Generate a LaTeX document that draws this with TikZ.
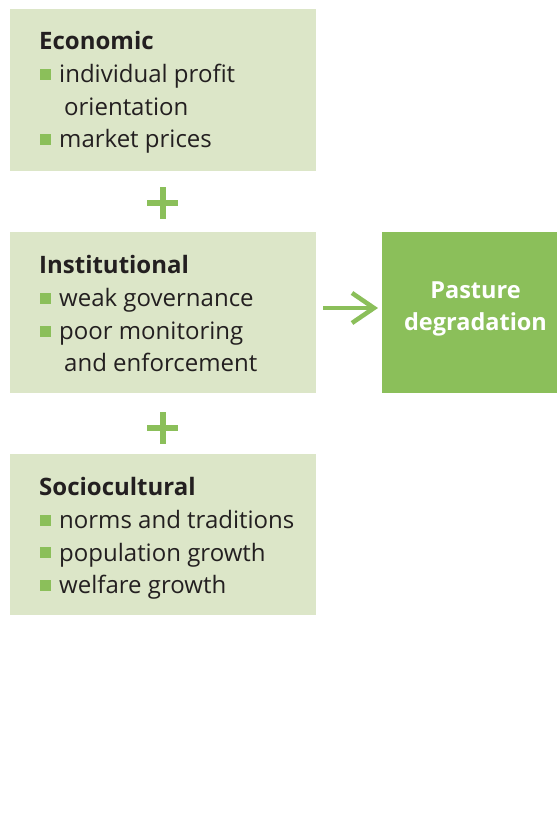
\documentclass[tikz,border=0pt]{standalone}
\usepackage{fontspec}
\setmainfont{Open Sans}
\definecolor{lightgreen}{HTML}{DCE6C8}
\definecolor{darkgreen}{HTML}{8BBF5A}
\definecolor{ink}{HTML}{231F20}
\begin{document}
\begin{tikzpicture}[x=1pt,y=-1pt,
  factorbox/.style={fill=lightgreen, draw=none},
  title/.style={anchor=base west, inner sep=0pt, font=\fontsize{24}{28}\selectfont\bfseries, text=ink},
  item/.style={anchor=base west, inner sep=0pt, font=\fontsize{24}{28}\selectfont, text=ink},
  bulletsq/.style={fill=darkgreen, draw=none},
  plusbar/.style={draw=darkgreen, line width=6pt},
  arrowline/.style={draw=darkgreen, line width=4.5pt}
]
\useasboundingbox (0,0) rectangle (557,816);
% boxes
\fill[factorbox] (10,9) rectangle (316,171);
\fill[factorbox] (10,232) rectangle (316,393);
\fill[factorbox] (10,454) rectangle (316,615);
\fill[darkgreen] (382,232) rectangle (557,393);
% Economic
\node[title] (econT) at (39,49) {Economic};
\fill[bulletsq] (40,69) rectangle (51,80);
\node[item] (e1) at (59,82) {individual profit};
\node[item] (e1b) at (64,115) {orientation};
\fill[bulletsq] (40,134) rectangle (51,145);
\node[item] (e2) at (59,147) {market prices};
% Institutional
\node[title] (instT) at (39,273) {Institutional};
\fill[bulletsq] (40,293) rectangle (51,304);
\node[item] (i1) at (59,306) {weak governance};
\fill[bulletsq] (40,326) rectangle (51,337);
\node[item] (i2) at (59,339) {poor monitoring};
\node[item] (i2b) at (64,371) {and enforcement};
% Sociocultural
\node[title] (socT) at (39,495) {Sociocultural};
\fill[bulletsq] (40,515) rectangle (51,526);
\node[item] (s1) at (59,528) {norms and traditions};
\fill[bulletsq] (40,547) rectangle (51,558);
\node[item] (s2) at (59,561) {population growth};
\fill[bulletsq] (40,580) rectangle (51,591);
\node[item] (s3) at (59,593) {welfare growth};
% Pasture
\node[anchor=center, align=center, inner sep=0pt, text=white,
  font=\fontsize{23.5}{32}\selectfont\bfseries] (pastT) at (475.5,309) {Pasture\\degradation};
% plus signs
\draw[plusbar] (147,203) -- (178,203) (162.5,187) -- (162.5,219);
\draw[plusbar] (147,428) -- (178,428) (162.5,412) -- (162.5,444);
% arrow
\coordinate (a0) at (323,308);
\coordinate (a1) at (374,308);
\draw[arrowline] (a0) -- (a1);
\draw[arrowline, line join=miter] (352,293) -- (a1) -- (352,323);
\end{tikzpicture}
\end{document}
